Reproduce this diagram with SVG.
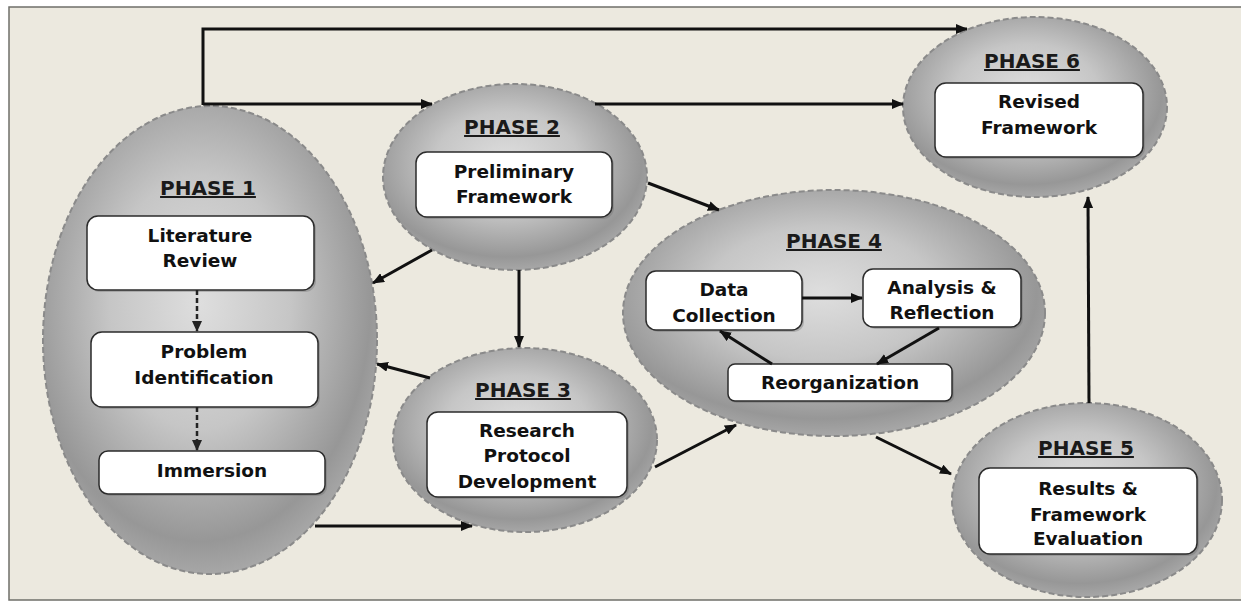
<svg xmlns="http://www.w3.org/2000/svg" width="1241" height="602" viewBox="0 0 1241 602">
<style>
.bg{fill:#ece9df;stroke:#6f6f6a;stroke-width:1.5}
.phase{stroke:#8a8a8a;stroke-width:2;stroke-dasharray:6 3}
.box{fill:#ffffff;stroke:#2b2b2b;stroke-width:1.5}
.shadow{fill:#6a6a6a;opacity:0.35}
.title{font-family:"DejaVu Sans","Liberation Sans",sans-serif;font-weight:bold;font-size:20px;fill:#1a1a1a;text-anchor:middle;text-decoration:underline}
.lbl{font-family:"DejaVu Sans","Liberation Sans",sans-serif;font-weight:bold;font-size:18.5px;fill:#111;text-anchor:middle}
.con{fill:none;stroke:#111;stroke-width:3}
.dash{fill:none;stroke:#222;stroke-width:2.5;stroke-dasharray:5 3}
</style>
<defs>
<radialGradient id="g" cx="0.47" cy="0.42" r="0.6">
<stop offset="0" stop-color="#dedede"/>
<stop offset="0.45" stop-color="#c6c6c6"/>
<stop offset="0.85" stop-color="#979797"/>
<stop offset="1" stop-color="#ababab"/>
</radialGradient>
<marker id="ah" markerUnits="userSpaceOnUse" markerWidth="12" markerHeight="10" refX="11" refY="5" orient="auto">
<path d="M0,0 L12,5 L0,10 z" fill="#111"/>
</marker>
<marker id="ahs" markerUnits="userSpaceOnUse" markerWidth="11" markerHeight="10" refX="10" refY="5" orient="auto">
<path d="M0,0 L11,5 L0,10 z" fill="#222"/>
</marker>
</defs>
<rect x="0" y="0" width="1241" height="602" fill="#ffffff"/>
<rect class="bg" x="9" y="7" width="1240" height="593"/>

<g id="phase1">
<ellipse class="phase" cx="210" cy="340" rx="167" ry="234" fill="url(#g)"/>
<text class="title" x="208" y="195">PHASE 1</text>
<g id="literature-review">
<rect class="shadow" x="89" y="218" width="227" height="74" rx="11"/>
<rect class="box" x="87" y="216" width="227" height="74" rx="11"/>
<text class="lbl" x="200" y="242">Literature</text>
<text class="lbl" x="200" y="267">Review</text>
</g>
<g id="problem-identification">
<rect class="shadow" x="93" y="334" width="227" height="75" rx="11"/>
<rect class="box" x="91" y="332" width="227" height="75" rx="11"/>
<text class="lbl" x="204" y="358">Problem</text>
<text class="lbl" x="204" y="384">Identification</text>
</g>
<g id="immersion">
<rect class="shadow" x="101" y="453" width="226" height="43" rx="9"/>
<rect class="box" x="99" y="451" width="226" height="43" rx="9"/>
<text class="lbl" x="212" y="477">Immersion</text>
</g>
</g>

<g id="phase2">
<ellipse class="phase" cx="515" cy="177" rx="132" ry="93" fill="url(#g)"/>
<text class="title" x="512" y="134">PHASE 2</text>
<rect class="shadow" x="418" y="154" width="196" height="65" rx="11"/>
<rect class="box" x="416" y="152" width="196" height="65" rx="11"/>
<text class="lbl" x="514" y="178">Preliminary</text>
<text class="lbl" x="514" y="203">Framework</text>
</g>

<g id="phase3">
<ellipse class="phase" cx="525" cy="440" rx="132" ry="92" fill="url(#g)"/>
<text class="title" x="523" y="397">PHASE 3</text>
<rect class="shadow" x="429" y="414" width="200" height="85" rx="11"/>
<rect class="box" x="427" y="412" width="200" height="85" rx="11"/>
<text class="lbl" x="527" y="437">Research</text>
<text class="lbl" x="527" y="462">Protocol</text>
<text class="lbl" x="527" y="488">Development</text>
</g>

<g id="phase4">
<ellipse class="phase" cx="834" cy="313" rx="211" ry="123" fill="url(#g)"/>
<text class="title" x="834" y="248">PHASE 4</text>
<g id="data-collection">
<rect class="shadow" x="648" y="273" width="156" height="59" rx="10"/>
<rect class="box" x="646" y="271" width="156" height="59" rx="10"/>
<text class="lbl" x="724" y="296">Data</text>
<text class="lbl" x="724" y="322">Collection</text>
</g>
<g id="analysis-reflection">
<rect class="shadow" x="865" y="271" width="158" height="58" rx="10"/>
<rect class="box" x="863" y="269" width="158" height="58" rx="10"/>
<text class="lbl" x="942" y="294">Analysis &amp;</text>
<text class="lbl" x="942" y="319">Reflection</text>
</g>
<g id="reorganization">
<rect class="shadow" x="730" y="366" width="224" height="37" rx="7"/>
<rect class="box" x="728" y="364" width="224" height="37" rx="7"/>
<text class="lbl" x="840" y="389">Reorganization</text>
</g>
</g>

<g id="phase5">
<ellipse class="phase" cx="1087" cy="500" rx="135" ry="97" fill="url(#g)"/>
<text class="title" x="1086" y="455">PHASE 5</text>
<rect class="shadow" x="981" y="470" width="218" height="86" rx="11"/>
<rect class="box" x="979" y="468" width="218" height="86" rx="11"/>
<text class="lbl" x="1088" y="495">Results &amp;</text>
<text class="lbl" x="1088" y="521">Framework</text>
<text class="lbl" x="1088" y="545">Evaluation</text>
</g>

<g id="phase6">
<ellipse class="phase" cx="1035" cy="107" rx="132" ry="90" fill="url(#g)"/>
<text class="title" x="1032" y="68">PHASE 6</text>
<rect class="shadow" x="937" y="85" width="208" height="74" rx="11"/>
<rect class="box" x="935" y="83" width="208" height="74" rx="11"/>
<text class="lbl" x="1039" y="108">Revised</text>
<text class="lbl" x="1039" y="134">Framework</text>
</g>

<g id="connectors">
<path class="con" d="M203,105 L203,29 L967,29" marker-end="url(#ah)"/>
<path class="con" d="M203,104 L432,104" marker-end="url(#ah)"/>
<path class="con" d="M595,104 L903,104" marker-end="url(#ah)"/>
<path class="con" d="M432,250 L373,283" marker-end="url(#ah)"/>
<path class="con" d="M519,270 L519,347" marker-end="url(#ah)"/>
<path class="con" d="M430,378 L377,364" marker-end="url(#ah)"/>
<path class="con" d="M315,526 L472,526" marker-end="url(#ah)"/>
<path class="con" d="M655,467 L736,425" marker-end="url(#ah)"/>
<path class="con" d="M648,183 L719,210" marker-end="url(#ah)"/>
<path class="con" d="M876,437 L951,474" marker-end="url(#ah)"/>
<path class="con" d="M1089,403 L1088,197" marker-end="url(#ah)"/>
<path class="con" d="M802,298 L862,298" marker-end="url(#ah)"/>
<path class="con" d="M939,328 L877,364" marker-end="url(#ah)"/>
<path class="con" d="M772,364 L720,331" marker-end="url(#ah)"/>
<path class="dash" d="M197,290 L197,331" marker-end="url(#ahs)"/>
<path class="dash" d="M197,407 L197,450" marker-end="url(#ahs)"/>
</g>
</svg>
